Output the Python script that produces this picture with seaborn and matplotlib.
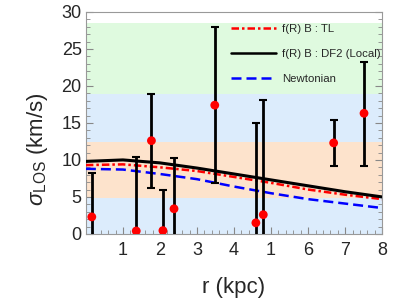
import numpy as np
import pandas as pd
import seaborn as sns
import matplotlib
matplotlib.use('Agg')
import matplotlib.pyplot as plt

# observed dispersions
r_obs = [0.16, 1.36, 1.77, 2.08, 2.38, 3.48, 4.59, 4.79, 6.69, 7.51]
sig_obs = [2.3, 0.4, 12.6, 0.45, 3.4, 17.4, 1.5, 2.6, 12.3, 16.3]
sig_hi = [8.2, 10.4, 18.9, 6.0, 10.3, 28.0, 15.0, 18.1, 15.4, 23.2]
sig_lo = [-1, -1, 6.2, -1, -1, 6.9, -1, -1, 9.2, 9.2]

# model curves
r_mod = [0, 1, 2, 3, 4, 5, 6, 7, 8]
sig_tl = [9.3, 9.4, 9.0, 8.5, 7.7, 6.9, 6.0, 5.3, 4.7]
sig_df2 = [9.8, 10.0, 9.6, 8.9, 8.1, 7.3, 6.5, 5.7, 5.0]
sig_newt = [8.8, 8.7, 8.1, 7.4, 6.4, 5.5, 4.7, 4.1, 3.5]

# shaded bands (lower, upper, colour)
bands = [(0, 4.8, '#dcecfc'), (4.8, 12.4, '#fde3cc'),
         (12.4, 18.9, '#dcecfc'), (18.9, 28.5, '#dffadf')]

xtick_pos = [1, 2, 3, 4, 5, 6, 7, 8]
xtick_lab = ['1', '2', '3', '4', '1', '6', '7', '8']

sns.set_style('ticks')
plt.rcParams['font.family'] = ['Liberation Sans', 'DejaVu Sans']
plt.rcParams['mathtext.fontset'] = 'custom'
plt.rcParams['mathtext.rm'] = 'Liberation Sans'
plt.rcParams['mathtext.it'] = 'Liberation Sans:italic'

fig = plt.figure(figsize=(4.07, 3.05), dpi=100)
ax = fig.add_axes([0.211, 0.233, 0.728, 0.728])

for lo, hi, c in bands:
    ax.axhspan(lo, hi, color=c, lw=0, zorder=0)

curves = pd.DataFrame({'r': r_mod * 3,
                       'sigma': sig_tl + sig_df2 + sig_newt,
                       'model': ['f(R) B : TL'] * 9 + ['f(R) B : DF2 (Local)'] * 9
                                + ['Newtonian'] * 9})
sns.lineplot(data=curves, x='r', y='sigma', hue='model', style='model',
             palette=['red', 'black', 'blue'],
             dashes=[(3, 1.2, 1, 1.2), '', (4, 2)],
             linewidth=1.8, ax=ax, zorder=3)
# make the solid line a bit heavier
ax.get_lines()[1].set_linewidth(2.2)

yerr = [np.array(sig_obs) - np.array(sig_lo), np.array(sig_hi) - np.array(sig_obs)]
ax.errorbar(r_obs, sig_obs, yerr=yerr, fmt='none', ecolor='black',
            elinewidth=2, capsize=3, capthick=1.5, zorder=4)
sns.scatterplot(x=r_obs, y=sig_obs, color='red', s=40, edgecolor='none',
                ax=ax, zorder=5, legend=False)

ax.set_xlim(0, 8)
ax.set_ylim(0, 30)
ax.set_xticks(xtick_pos)
ax.set_xticklabels(xtick_lab)
ax.set_yticks([0, 5, 10, 15, 20, 25, 30])
ax.set_xticks(np.arange(0, 8.01, 0.2), minor=True)
ax.set_yticks(np.arange(0, 30.01, 1), minor=True)
ax.tick_params(which='both', direction='in', right=True, top=False,
               color='#888888', labelsize=13)
ax.tick_params(which='major', length=5, width=0.8)
ax.tick_params(which='minor', length=3, width=0.6)
ax.tick_params(axis='x', which='major', pad=6)
ax.tick_params(axis='y', which='major', pad=3)
for s in ax.spines.values():
    s.set_color('#999999')
    s.set_linewidth(0.8)

ax.set_xlabel('r (kpc)', fontsize=16, labelpad=13)
ax.set_ylabel(r'$\sigma_{\mathrm{LOS}}$ (km/s)', fontsize=16)
ax.yaxis.set_label_coords(-0.12, 0.38)

leg = ax.legend(loc='upper right', bbox_to_anchor=(1.0, 0.951),
                frameon=False, fontsize=8.2, handlelength=3.95,
                labelspacing=1.3, borderaxespad=0.1, borderpad=0,
                handletextpad=0.6)
for h in leg.get_lines():
    h.set_linewidth(1.8)

fig.savefig('out.png', dpi=100)
